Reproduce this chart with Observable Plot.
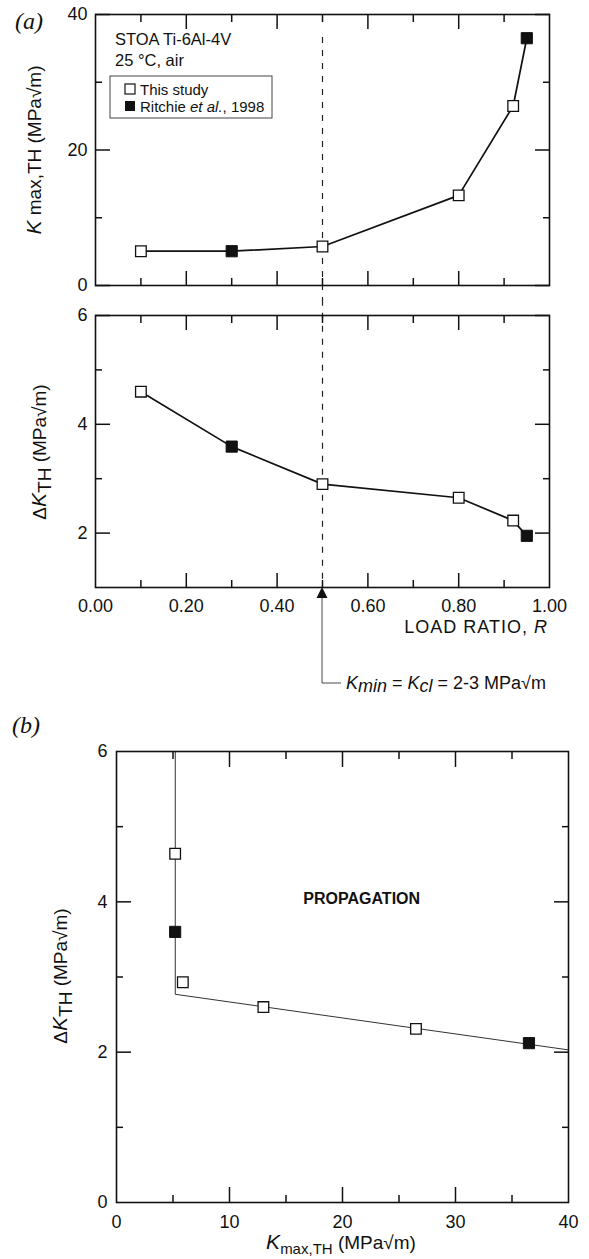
<!DOCTYPE html>
<html><head><meta charset="utf-8">
<script src="https://cdn.jsdelivr.net/npm/d3@7"></script>
<script src="https://cdn.jsdelivr.net/npm/@observablehq/plot@0.6"></script>
<style>
html,body{margin:0;padding:0;background:#fff;}
#wrap{position:relative;width:589px;height:1259px;overflow:hidden;background:#fff;}
</style></head><body><div id="wrap"></div>
<script>
const FONT = '"Liberation Sans", Arial, Helvetica, sans-serif';
const SERIF = '"Liberation Serif", "Times New Roman", serif';

// ---- Panel (a): threshold values vs load ratio ----
const loadRatio = [0.10, 0.30, 0.50, 0.80, 0.92, 0.95];
const kmaxA     = [5.06, 5.06, 5.76, 13.3, 26.5, 36.5];
const deltaKA   = [4.60, 3.59, 2.90, 2.65, 2.23, 1.95];
const sourceA   = ["This study", "Ritchie et al., 1998", "This study", "This study", "This study", "Ritchie et al., 1998"];
const kminR = 0.5;

// ---- Panel (b): ΔK_TH vs Kmax,TH ----
const kmaxB   = [5.19, 5.19, 5.87, 13.0, 26.5, 36.5];
const deltaKB = [4.64, 3.60, 2.93, 2.60, 2.31, 2.12];
const sourceB = ["This study", "Ritchie et al., 1998", "This study", "This study", "This study", "Ritchie et al., 1998"];
const boundaryKmax   = [5.2, 5.2, 40];
const boundaryDeltaK = [6.0, 2.77, 2.03];

// ---- tick values ----
const tA1Ymajor = [0, 20, 40], tA1Yminor = [10, 30];
const tA2Ymajor = [2, 4, 6],   tA2Yminor = [3, 5];
const tRmajor = [0.2, 0.4, 0.6, 0.8], tRminor = [0.1, 0.3, 0.5, 0.7, 0.9];
const labelsR = [0, 0.2, 0.4, 0.6, 0.8, 1.0];
const tBXmajor = [10, 20, 30], tBXminor = [5, 15, 25, 35], labelsBX = [0, 10, 20, 30, 40];
const tBYmajor = [2, 4], tBYminor = [1, 3, 5], labelsBY = [0, 2, 4, 6];

const OPEN = "This study";
const rowsA = loadRatio.map((r, i) => ({r, k: kmaxA[i], dk: deltaKA[i], src: sourceA[i]}));
const rowsB = kmaxB.map((k, i) => ({k, dk: deltaKB[i], src: sourceB[i]}));
const rowsBound = boundaryKmax.map((k, i) => ({k, dk: boundaryDeltaK[i]}));

function tickAxes(dim, anchors, values, size) {
  const f = dim === "x" ? Plot.axisX : Plot.axisY;
  return anchors.map(a => f(values, {anchor: a, tickSize: -size, tickFormat: () => "", strokeWidth: 1.5, label: null}));
}
function labelAxis(dim, anchor, values, fmt, pad) {
  const f = dim === "x" ? Plot.axisX : Plot.axisY;
  return f(values, {anchor, tickSize: 0, tickPadding: pad, tickFormat: fmt, fontSize: 18, label: null});
}
function squares(data, x, y) {
  return [
    Plot.dot(data, {x, y, filter: d => d.src === OPEN, symbol: "square", r: 6, fill: "white", stroke: "#111", strokeWidth: 1.3}),
    Plot.dot(data, {x, y, filter: d => d.src !== OPEN, symbol: "square", r: 6.3, fill: "#111", stroke: "#111", strokeWidth: 1})
  ];
}
const baseStyle = {fontFamily: FONT, fontSize: "18px", color: "#111", background: "transparent", overflow: "visible"};

function rich(svg, {x, y, rotate = false, anchor = "start", size = 18, family = FONT, weight = null}, parts) {
  const t = d3.select(svg).append("text")
    .attr("font-family", family).attr("font-size", size).attr("fill", "#111").attr("text-anchor", anchor);
  if (weight) t.attr("font-weight", weight);
  if (rotate) t.attr("transform", `translate(${x},${y}) rotate(-90)`);
  else t.attr("x", x).attr("y", y);
  for (const p of parts) {
    const s = t.append("tspan").text(p.t);
    if (p.it) s.attr("font-style", "italic");
    if (p.dy) s.attr("dy", p.dy);
    if (p.size) s.attr("font-size", p.size);
  }
  return t;
}
function place(el, top) {
  el.style.position = "absolute"; el.style.left = "0px"; el.style.top = top + "px";
  document.getElementById("wrap").appendChild(el);
}

// ===== Panel (a) top: Kmax,TH =====
const pA1 = Plot.plot({
  width: 589, height: 300,
  marginLeft: 95, marginRight: 40, marginTop: 14, marginBottom: 15,
  x: {domain: [0, 1]}, y: {domain: [0, 40]},
  style: baseStyle,
  marks: [
    Plot.ruleX([kminR], {y1: 36.6, y2: -2.2, stroke: "#222", strokeWidth: 1.2, strokeDasharray: "6,7"}),
    Plot.line(rowsA, {x: "r", y: "k", stroke: "#111", strokeWidth: 1.7}),
    ...squares(rowsA, "r", "k"),
    Plot.frame({stroke: "#111", strokeWidth: 1.6}),
    ...tickAxes("y", ["left", "right"], tA1Ymajor, 15),
    ...tickAxes("y", ["left", "right"], tA1Yminor, 7),
    ...tickAxes("x", ["bottom", "top"], tRmajor, 14),
    ...tickAxes("x", ["bottom", "top"], tRminor, 7),
    labelAxis("y", "left", tA1Ymajor, d => String(d), 8)
  ]
});
place(pA1, 0);
rich(pA1, {x: 15, y: 29, size: 24, family: SERIF}, [{t: "(a)", it: true}]);
rich(pA1, {x: 41, y: 150, rotate: true, anchor: "middle", size: 19}, [{t: "K", it: true, size: 21}, {t: " max,TH (MPa√m)"}]);
rich(pA1, {x: 115, y: 45, size: 16.5}, [{t: "STOA Ti-6Al-4V"}]);
rich(pA1, {x: 115, y: 66, size: 16.5}, [{t: "25 °C, air"}]);
{
  const g = d3.select(pA1).append("g");
  g.append("rect").attr("x", 110).attr("y", 76).attr("width", 162).attr("height", 42)
    .attr("fill", "white").attr("stroke", "#444").attr("stroke-width", 1);
  g.append("rect").attr("x", 125).attr("y", 84).attr("width", 10).attr("height", 10)
    .attr("fill", "white").attr("stroke", "#111").attr("stroke-width", 1.2);
  g.append("rect").attr("x", 125).attr("y", 101).attr("width", 10).attr("height", 10).attr("fill", "#111");
  rich(pA1, {x: 140, y: 95, size: 15}, [{t: "This study"}]);
  rich(pA1, {x: 140, y: 112, size: 15}, [{t: "Ritchie "}, {t: "et al.", it: true}, {t: ", 1998"}]);
}

// ===== Panel (a) bottom: ΔK_TH =====
const pA2 = Plot.plot({
  width: 589, height: 400,
  marginLeft: 95, marginRight: 40, marginTop: 15, marginBottom: 113,
  x: {domain: [0, 1]}, y: {domain: [1, 6]},
  style: baseStyle,
  marks: [
    Plot.ruleX([kminR], {y1: 6.28, y2: 1, stroke: "#222", strokeWidth: 1.2, strokeDasharray: "6,7"}),
    Plot.line(rowsA, {x: "r", y: "dk", stroke: "#111", strokeWidth: 1.7}),
    ...squares(rowsA, "r", "dk"),
    Plot.frame({stroke: "#111", strokeWidth: 1.6}),
    ...tickAxes("y", ["left", "right"], tA2Ymajor, 15),
    ...tickAxes("y", ["left", "right"], tA2Yminor, 7),
    ...tickAxes("x", ["bottom", "top"], tRmajor, 14),
    ...tickAxes("x", ["bottom", "top"], tRminor, 7),
    labelAxis("y", "left", tA2Ymajor, d => String(d), 8),
    labelAxis("x", "bottom", labelsR, d3.format(".2f"), 12)
  ]
});
place(pA2, 300);
rich(pA2, {x: 46, y: 152, rotate: true, anchor: "middle", size: 19}, [{t: "Δ"}, {t: "K", it: true, size: 21}, {t: "TH", dy: 5}, {t: " (MPa√m)", dy: -5}]);
rich(pA2, {x: 548, y: 333, anchor: "end", size: 18}, [{t: "LOAD RATIO, "}, {t: "R", it: true}]).attr("letter-spacing", 1);
{
  const xs = pA2.scale("x"), ys = pA2.scale("y");
  const px = xs.apply(kminR), fb = ys.apply(1);
  const g = d3.select(pA2).append("g");
  g.append("path").attr("d", `M${px},${fb}L${px - 5.5},${fb + 11}L${px + 5.5},${fb + 11}Z`).attr("fill", "#111");
  g.append("path").attr("d", `M${px},${fb + 11}V${fb + 96}H${px + 19}`).attr("fill", "none").attr("stroke", "#333").attr("stroke-width", 0.9);
  rich(pA2, {x: px + 24, y: fb + 102, size: 18}, [
    {t: "K", it: true}, {t: "min", it: true, dy: 3}, {t: " = ", dy: -3},
    {t: "K", it: true}, {t: "cl", it: true, dy: 3}, {t: " = 2-3 MPa√m", dy: -3}
  ]);
}

// ===== Panel (b) =====
const pB = Plot.plot({
  width: 589, height: 559,
  marginLeft: 116, marginRight: 21, marginTop: 51, marginBottom: 57,
  x: {domain: [0, 40]}, y: {domain: [0, 6]},
  style: baseStyle,
  marks: [
    Plot.line(rowsBound, {x: "k", y: "dk", stroke: "#333", strokeWidth: 1}),
    ...squares(rowsB, "k", "dk"),
    Plot.text(["PROPAGATION"], {x: 21.7, y: 4.04, fontWeight: "bold", fontSize: 16, fill: "#111"}),
    Plot.frame({stroke: "#111", strokeWidth: 1.6}),
    ...tickAxes("y", ["left", "right"], tBYmajor, 15),
    ...tickAxes("y", ["left", "right"], tBYminor, 7),
    ...tickAxes("x", ["bottom", "top"], tBXmajor, 15),
    ...tickAxes("x", ["bottom", "top"], tBXminor, 7),
    labelAxis("y", "left", labelsBY, d => String(d), 9),
    labelAxis("x", "bottom", labelsBX, d => String(d), 13)
  ]
});
place(pB, 700);
rich(pB, {x: 12, y: 33, size: 24, family: SERIF}, [{t: "(b)", it: true}]);
rich(pB, {x: 67, y: 276, rotate: true, anchor: "middle", size: 19}, [{t: "Δ"}, {t: "K", it: true, size: 21}, {t: "TH", dy: 5}, {t: " (MPa√m)", dy: -5}]);
rich(pB, {x: 341, y: 549, anchor: "middle", size: 19}, [{t: "K", it: true, size: 21}, {t: "max,TH", size: 15, dy: 5}, {t: " (MPa√m)", dy: -5}]);
</script></body></html>
